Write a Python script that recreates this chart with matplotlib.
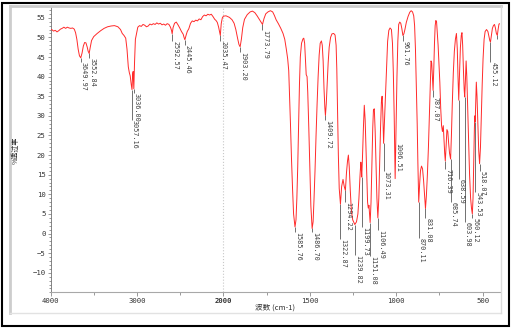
import numpy as np
import matplotlib
matplotlib.use("Agg")
import matplotlib.pyplot as plt
from matplotlib.patches import Rectangle
from matplotlib.lines import Line2D

plt.rcParams['font.family'] = ['DejaVu Sans Mono', 'Noto Sans CJK SC']

# 红外光谱: 波数 (cm-1) 与 透过率 (%)
wavenumber = [
    4000, 3985, 3965, 3945, 3925, 3905, 3885, 3865, 3845, 3825,
    3805, 3785, 3765, 3745, 3725, 3710, 3695, 3680, 3665, 3649.97,
    3635, 3620, 3605, 3590, 3575, 3565, 3552.84, 3540, 3525, 3500,
    3460, 3420, 3380, 3340, 3300, 3260, 3220, 3190, 3170, 3150,
    3130, 3115, 3100, 3088, 3078, 3066, 3057.16, 3050, 3044, 3036.00,
    3028, 3018, 3005, 2990, 2970, 2950, 2930, 2910, 2890, 2870,
    2850, 2830, 2810, 2790, 2770, 2750, 2730, 2710, 2690, 2670,
    2650, 2630, 2612, 2600, 2592.57, 2582, 2565, 2545, 2525, 2505,
    2485, 2465, 2455, 2445.46, 2432, 2418, 2400, 2380, 2360, 2340,
    2320, 2300, 2280, 2260, 2240, 2220, 2200, 2180, 2160, 2140,
    2120, 2100, 2085, 2070, 2055, 2045, 2035.47, 2025, 2012, 2000,
    1985, 1965, 1950, 1938, 1928, 1918, 1910, 1903.20, 1896, 1888,
    1878, 1862, 1845, 1832, 1818, 1805, 1792, 1782, 1773.79, 1765,
    1755, 1742, 1728, 1715, 1705, 1695, 1682, 1668, 1655, 1645,
    1636, 1628, 1622, 1617, 1612, 1606, 1600, 1594, 1585.76, 1580,
    1575, 1570, 1565, 1560, 1555, 1548, 1540, 1535, 1530, 1525,
    1521, 1516, 1512, 1506, 1500, 1494, 1486.70, 1481, 1476, 1470,
    1464, 1458, 1452, 1446, 1440, 1433, 1428, 1423, 1418, 1413,
    1409.72, 1405, 1400, 1394, 1388, 1380, 1372, 1362, 1354, 1348,
    1344, 1340, 1335, 1330, 1322.87, 1316, 1308, 1301, 1294.22, 1288,
    1282, 1277, 1272, 1266, 1260, 1252, 1239.82, 1230, 1222, 1216,
    1210, 1205, 1202, 1199.73, 1195, 1190, 1185, 1180, 1176, 1171,
    1166, 1162, 1158, 1151.08, 1146, 1141, 1136, 1132, 1127, 1122,
    1117, 1112, 1106.49, 1101, 1096, 1091, 1086, 1082, 1078, 1073.31,
    1068, 1062, 1056, 1050, 1043, 1036, 1028, 1022, 1017, 1012,
    1006.51, 1001, 996, 991, 986, 980, 974, 968, 961.76, 956,
    950, 942, 932, 922, 914, 906, 899, 894, 889, 884,
    879, 875, 870.11, 865, 860, 854, 848, 842, 836, 831.08,
    826, 820, 814, 808, 803, 799, 795, 791, 787.07, 783,
    779, 775, 771, 767, 763, 758, 753, 748, 743, 738,
    733, 728, 724, 720, 716.39, 712, 707, 702, 697, 692,
    685.74, 681, 676, 670, 664, 658, 652, 647, 643, 638.59,
    634, 629, 624, 620, 616, 611, 607, 603.98, 600, 596,
    592, 587, 582, 576, 570, 565, 560.12, 556, 552, 548,
    545.5, 543.53, 540, 537, 533, 528, 523, 518.07, 513, 508,
    503, 498, 492, 486, 478, 470, 463, 459, 455.12, 450,
    444, 438, 432, 427, 421, 415.34, 411, 406, 400,
]
transmittance = [
    51.9, 52.0, 51.6, 51.8, 51.4, 51.7, 52.1, 52.3, 52.6, 52.3,
    52.6, 52.4, 52.3, 52.4, 52.1, 51.2, 49.5, 47.0, 45.3, 44.8,
    46.0, 47.8, 48.7, 48.6, 47.5, 46.5, 45.9, 47.5, 49.2, 50.2,
    51.0, 51.7, 52.3, 52.7, 52.9, 53.0, 52.7, 52.0, 51.0, 50.5,
    49.8, 47.0, 42.5, 41.0, 40.2, 38.0, 36.7, 40.5, 41.3, 36.9,
    43.5, 49.5, 51.0, 52.6, 53.0, 52.8, 53.3, 53.1, 52.7, 52.9,
    53.4, 53.2, 53.5, 53.3, 53.7, 53.4, 53.6, 53.2, 53.4, 53.1,
    53.5, 53.3, 52.6, 51.8, 50.9, 52.5, 53.6, 53.9, 53.2, 52.4,
    51.5, 50.8, 50.0, 49.4, 50.5, 51.5, 52.2, 53.6, 54.2, 54.0,
    54.4, 54.2, 54.7, 54.5, 55.3, 55.7, 55.5, 55.9, 55.7, 55.9,
    55.3, 54.6, 54.3, 53.8, 52.6, 51.5, 50.5, 53.5, 55.0, 55.4,
    55.5, 55.1, 54.5, 53.6, 52.0, 49.8, 48.2, 47.6, 49.5, 52.5,
    54.6, 55.8, 56.5, 56.7, 56.3, 55.5, 54.6, 53.9, 53.3, 54.8,
    56.0, 56.5, 56.8, 56.5, 55.6, 54.5, 53.5, 52.3, 51.0, 49.5,
    47.0, 44.5, 41.5, 35.0, 28.0, 19.0, 11.5, 5.0, 1.7, 3.5,
    9.0, 17.0, 27.0, 38.0, 45.0, 48.5, 49.6, 49.8, 48.5, 44.0,
    40.5, 40.0, 36.0, 27.0, 17.0, 7.0, 1.3, 3.0, 8.5, 16.0,
    25.0, 33.0, 40.0, 45.5, 48.5, 49.1, 48.0, 44.0, 37.0, 32.0,
    30.1, 33.0, 38.0, 43.5, 47.5, 50.0, 50.9, 51.0, 50.6, 48.0,
    42.0, 32.0, 20.0, 11.5, 7.5, 12.0, 13.8, 12.0, 11.0, 15.5,
    18.5, 20.0, 17.0, 11.0, 6.0, 3.5, 2.3, 3.0, 5.0, 9.0,
    14.5, 18.2, 16.5, 14.4, 20.0, 27.0, 32.7, 29.0, 23.0, 16.0,
    8.0, 6.5, 7.2, 2.8, 8.0, 18.0, 27.0, 31.5, 31.8, 26.0,
    17.0, 9.0, 4.0, 9.0, 18.0, 27.0, 33.5, 35.0, 31.0, 23.0,
    29.0, 36.0, 43.0, 49.0, 51.8, 52.4, 52.0, 48.5, 41.0, 30.0,
    14.0, 28.0, 40.0, 49.0, 53.3, 53.9, 53.6, 52.3, 50.5, 50.9,
    52.0, 53.8, 55.3, 56.4, 56.8, 56.5, 55.5, 53.0, 47.0, 38.0,
    28.0, 18.0, 8.0, 12.5, 16.0, 17.2, 16.5, 13.5, 9.5, 6.4,
    9.5, 15.0, 22.0, 31.0, 39.0, 44.0, 43.5, 40.0, 36.5, 42.0,
    48.5, 53.0, 54.3, 54.0, 51.5, 48.0, 43.0, 38.5, 32.0, 27.5,
    26.0, 27.5, 24.0, 20.5, 18.5, 22.0, 26.5, 26.0, 23.0, 20.5,
    19.0, 25.0, 33.0, 41.0, 46.5, 49.5, 51.0, 47.0, 40.0, 34.0,
    41.0, 47.5, 50.5, 51.2, 48.0, 41.0, 36.5, 34.8, 39.0, 44.0,
    40.0, 32.0, 24.0, 15.0, 9.0, 6.5, 5.0, 9.0, 18.0, 27.0,
    30.0, 28.5, 34.0, 38.6, 35.0, 28.0, 21.0, 17.8, 22.0, 30.0,
    38.0, 44.5, 49.5, 51.5, 52.0, 51.5, 50.0, 49.2, 48.8, 50.5,
    52.3, 53.0, 53.3, 52.5, 51.0, 50.5, 52.0, 53.4, 53.5,
]

# 标峰
peak_labels = [
    "3649.97", "3552.84", "3057.16", "3036.00", "2592.57", "2445.46",
    "2035.47", "1903.20", "1773.79", "1585.76", "1486.70", "1409.72",
    "1322.87", "1294.22", "1239.82", "1199.73", "1151.08", "1106.49",
    "1073.31", "1006.51", "961.76", "870.11", "831.08", "787.07",
    "716.39", "685.74", "638.59", "603.98", "560.12", "543.53",
    "518.07", "455.12", "415.34",
]
# 标注文字顶端的位置 (%)
label_top = [
    43.8, 44.8, 29.0, 35.7, 49.0, 48.0,
    49.0, 46.3, 52.0, 0.5, 0.3, 29.0,
    -1.5, 8.0, -5.5, 1.7, -5.8, 1.0,
    16.0, 23.0, 49.0, -1.2, 3.9, 34.8,
    16.5, 8.0, 14.0, 3.0, 4.0, 10.5,
    16.0, 43.7, 49.5,
]

xticks = [4000, 3000, 2000, 1500, 1000, 500]
xminor = [3500, 2500, 1750, 1250, 750]
yticks = list(range(-10, 56, 5))


# 2000 以上横轴压缩一半
def fwd(x):
    x = np.asarray(x, dtype=float)
    return np.where(x > 2000, 2000 + (x - 2000) / 2, x)


def inv(u):
    u = np.asarray(u, dtype=float)
    return np.where(u > 2000, 2000 + (u - 2000) * 2, u)


W, H = 513, 330
fig = plt.figure(figsize=(W / 100, H / 100), dpi=100)


def fig_line(x0, y0, x1, y1, **kw):
    fig.add_artist(Line2D([x0 / W, x1 / W], [1 - y0 / H, 1 - y1 / H],
                          transform=fig.transFigure, **kw))


# 外框
fig.add_artist(Rectangle((2 / W, 1 - 326 / H), 507 / W, 323 / H,
                         transform=fig.transFigure, fill=False,
                         edgecolor='black', lw=1.5))
# 灰色面板边
fig_line(10, 6, 501, 6, color='#cdcdcd', lw=2)
fig_line(10, 6, 10, 313, color='#cdcdcd', lw=2)
fig_line(10, 313, 501, 313, color='#e2e2e2', lw=1)
fig_line(501, 6, 501, 313, color='#dcdcdc', lw=1)

ax = fig.add_axes([50.5 / W, 1 - 292.4 / H, 449.5 / W, 286.4 / H])
ax.set_xscale('function', functions=(fwd, inv))
ax.set_xlim(4000, 400)
ax.set_ylim(-15, 58)

ax.axvline(2000, color='#c8c8c8', ls=':', lw=0.8, zorder=0)
ax.plot(wavenumber, transmittance, color='#ff2a2a', lw=0.7, zorder=3)

wn_arr = np.array(wavenumber)[::-1]
tr_arr = np.array(transmittance)[::-1]
peak_wn = np.array([float(s) for s in peak_labels])
peak_tip = np.interp(peak_wn, wn_arr, tr_arr)
stem_low = np.minimum(peak_tip, np.array(label_top))
ax.vlines(peak_wn, stem_low, peak_tip, color='#5a5a5a', lw=0.6, zorder=2)
for w, top, s in zip(peak_wn, label_top, peak_labels):
    ax.text(w, top, s, rotation=-90, ha='left', va='top', fontsize=4.9,
            color='#404040', clip_on=True)

for side in ('top', 'right'):
    ax.spines[side].set_visible(False)
ax.spines['left'].set_color('#707070')
ax.spines['left'].set_linewidth(0.6)
ax.spines['bottom'].set_color('#a8a8a8')
ax.spines['bottom'].set_linewidth(0.8)

ax.set_xticks(xticks)
ax.set_xticklabels([str(v) for v in xticks])
ax.set_xticks(xminor, minor=True)
ax.set_yticks(yticks)
ax.set_yticks(range(-15, 58), minor=True)
ax.set_yticklabels([str(v).replace('-', '\u2212') for v in yticks])
ax.get_xticklabels()[2].set_fontweight('bold')

ax.tick_params(axis='both', which='both', direction='out', colors='#707070',
               labelcolor='#333333', labelsize=5.2, width=0.5)
ax.tick_params(axis='x', which='major', length=3, pad=1.2)
ax.tick_params(axis='x', which='minor', length=2)
ax.tick_params(axis='y', which='major', length=2.5, pad=1)
ax.tick_params(axis='y', which='minor', length=1.2)

fig.text(275 / W, 1 - 307.5 / H, '波数 (cm-1)', ha='center', va='center',
         fontsize=5.5, color='#333333',
         family=['Noto Sans CJK SC', 'DejaVu Sans'])
fig.text(15.5 / W, 1 - 150 / H, '%透过率', rotation=90, ha='center',
         va='center', fontsize=5, color='#333333',
         family=['Noto Sans CJK SC', 'DejaVu Sans'])

fig.savefig('out.png', dpi=100)
